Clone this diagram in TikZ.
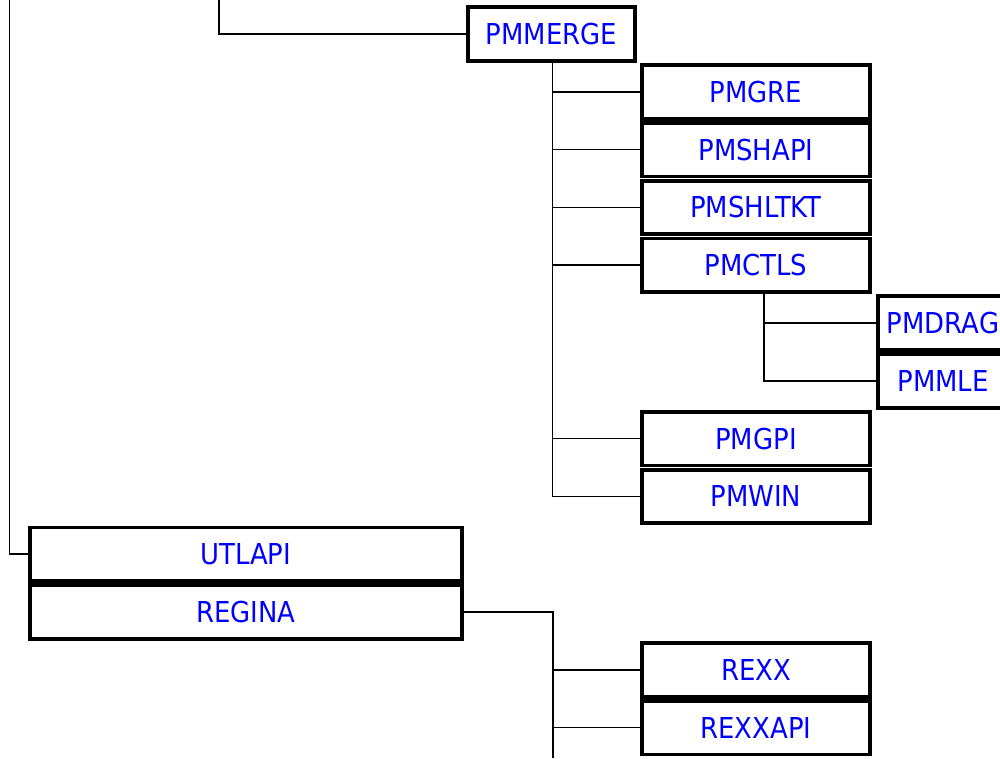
\documentclass[tikz,border=0pt]{standalone}
\usepackage{fontspec}
\setmainfont{DejaVu Sans}[FakeStretch=0.9]
\usetikzlibrary{calc}

\begin{document}
\begin{tikzpicture}[x=1pt,y=-1pt,
		modbox/.style={draw,line width=3.8pt,text=blue,minimum height=53.6pt,inner sep=0pt,
			font=\fontsize{28.8}{30}\selectfont},
		link/.style={line width=1.7pt}]
	\useasboundingbox (0,0) rectangle (1000,758);
	
	%BOXES
	\node[modbox,minimum width=167pt] (pmmerge) at (551.5,34) {PMMERGE};
	\foreach \name/\txt/\row in {pmgre/PMGRE/1,pmshapi/PMSHAPI/2,pmshltkt/PMSHLTKT/3,
		pmctls/PMCTLS/4,pmgpi/PMGPI/7,pmwin/PMWIN/8,rexx/REXX/11,rexxapi/REXXAPI/12}
		\node[modbox,minimum width=228pt] (\name) at (756,34+57.8*\row) {\txt};
	\node[modbox,minimum width=130pt] (pmdrag) at (943,323) {PMDRAG};
	\node[modbox,minimum width=130pt] (pmmle) at (943,380.8) {PMMLE};
	\node[modbox,minimum width=432pt] (utlapi) at (245.7,554.2) {UTLAPI};
	\node[modbox,minimum width=432pt] (regina) at (245.7,612) {REGINA};
	
	%LINKS
	\coordinate (topa) at (9.5,0);
	\coordinate (topb) at (219,0);
	\coordinate (botend) at (553,758);
	\draw[link] (topa) |- (utlapi.west);
	\draw[link] (topb) |- (pmmerge.west);
	\foreach \n in {pmgre,pmshapi,pmshltkt,pmctls,pmgpi,pmwin}
		\draw[link] ([xshift=1pt]pmmerge.south) |- (\n.west);
	\foreach \n in {pmdrag,pmmle}
		\draw[link] ([xshift=8pt]pmctls.south) |- (\n.west);
	\draw[link] (regina.east) -| (botend);
	\foreach \n in {rexx,rexxapi}
		\draw[link] (botend) |- (\n.west);
	
\end{tikzpicture}
\end{document}
